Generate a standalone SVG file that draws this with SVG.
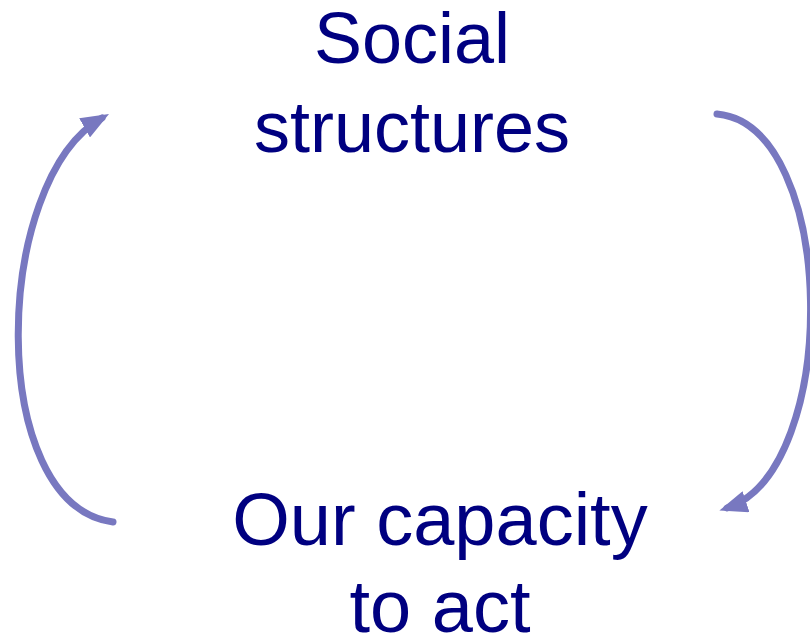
<svg xmlns="http://www.w3.org/2000/svg" width="810" height="642" viewBox="0 0 810 642">
<style>
.lbl{font-family:"Liberation Sans",Arial,sans-serif;font-size:72px;fill:#000080;text-anchor:middle}
.arc{fill:none;stroke:#7878C0;stroke-width:7;stroke-linecap:round}
</style>
<defs>
<marker id="ah" markerUnits="userSpaceOnUse" viewBox="0 0 28 22" markerWidth="28" markerHeight="22" refX="20" refY="11" orient="auto">
<path d="M0,0 L28,11 L0,22 z" fill="#7878C0"/>
</marker>
</defs>
<g id="social-structures">
<text class="lbl" x="412" y="63">Social</text>
<text class="lbl" x="412" y="152">structures</text>
</g>
<g id="capacity-to-act">
<text class="lbl" x="440" y="545" style="font-size:74px">Our capacity</text>
<text class="lbl" x="440" y="632" style="font-size:74px">to act</text>
</g>
<g id="connectors">
<path class="arc" d="M113,522 C-15,505 -8,180 102,118" marker-end="url(#ah)"/>
<path class="arc" d="M717,114 C838,125 842,470 727,508" marker-end="url(#ah)"/>
</g>
</svg>
